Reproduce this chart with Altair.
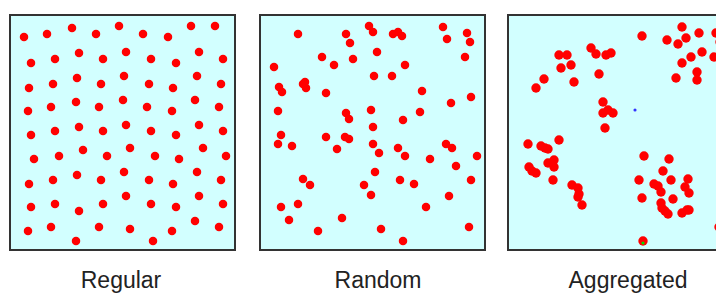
import altair as alt
import pandas as pd

# ---------------- data (panel-local coordinates, origin = panel top-left, y downward) -------------
panel_names = ["Regular", "Random", "Aggregated"]

regular_x = [14, 37, 62, 86, 109, 133, 158, 181, 205,
             21, 45, 69, 93, 116, 141, 166, 189, 213,
             19, 43, 67, 91, 114, 139, 163, 187, 211,
             18, 41, 66, 89, 113, 137, 162, 185, 209,
             21, 45, 69, 93, 116, 141, 166, 189, 213,
             24, 49, 73, 97, 120, 145, 169, 193, 216,
             19, 43, 67, 91, 114, 139, 163, 187, 211,
             21, 45, 69, 93, 116, 141, 166, 189, 213,
             18, 41, 66, 89, 120, 143, 162, 185, 209]
regular_y = [22, 19, 13, 19, 11, 19, 22, 11, 11,
             48, 44, 38, 44, 37, 44, 48, 37, 44,
             73, 69, 63, 69, 61, 69, 73, 61, 69,
             96, 92, 87, 92, 85, 92, 96, 85, 92,
             120, 116, 112, 116, 110, 116, 120, 110, 116,
             144, 141, 135, 141, 133, 141, 144, 133, 141,
             169, 165, 160, 165, 157, 165, 169, 157, 165,
             192, 189, 196, 189, 181, 189, 192, 181, 189,
             216, 212, 226, 212, 214, 226, 216, 206, 212]

random_x = [38, 86, 90, 109, 113, 133, 138, 142, 183, 187, 207, 210, 205, 117, 93, 62, 74, 14,
            145, 114, 132, 45, 43, 46, 19, 22, 66, 162, 211, 191, 18, 86, 89, 111, 160, 143,
            113, 21, 18, 32, 66, 85, 89, 77, 113, 119, 138, 145, 170, 186, 192, 217, 196, 115,
            43, 50, 104, 140, 154, 211, 111, 189, 21, 38, 166, 29, 82, 58, 121, 209, 143]
random_y = [19, 19, 28, 11, 17, 19, 17, 21, 12, 24, 18, 27, 42, 37, 44, 42, 50, 52,
            50, 61, 61, 67, 69, 73, 72, 77, 78, 76, 82, 88, 96, 98, 104, 95, 97, 105,
            112, 120, 129, 131, 122, 122, 124, 134, 129, 138, 133, 141, 144, 129, 133, 141, 151, 157,
            164, 170, 170, 165, 169, 165, 180, 181, 192, 189, 192, 205, 203, 216, 214, 212, 226]

aggregated_x = [134, 174, 159, 170, 178, 191, 208, 212, 194, 206, 183, 174, 189, 189, 168,
                51, 59, 63, 53, 83, 88, 98, 103, 36, 28, 66, 91, 95, 95, 100, 105, 97,
                20, 33, 37, 40, 51, 21, 24, 28, 40, 46, 46, 45, 64, 70, 71, 70, 74,
                136, 161, 155, 131, 163, 180, 146, 150, 153, 177, 181, 134, 165, 153, 154,
                157, 160, 174, 179, 181, 211, 135]
aggregated_y = [21, 12, 25, 29, 23, 18, 18, 27, 37, 42, 42, 48, 57, 65, 63,
                40, 40, 50, 53, 33, 39, 40, 38, 64, 73, 67, 59, 87, 98, 95, 98, 113,
                129, 131, 133, 134, 125, 152, 156, 158, 148, 145, 152, 165, 170, 173, 179, 182, 190,
                141, 144, 156, 165, 165, 164, 169, 171, 177, 172, 178, 183, 184, 188, 193,
                196, 199, 198, 195, 195, 212, 226]

# small marker dots (panel index, x, y, colour)
marker_panel = [2, 2]
marker_x = [135, 127]
marker_y = [228, 95]
marker_color = ["#00DD00", "#3333FF"]

# ---------------- layout (page pixels) ----------------
PANEL_LEFT = [10, 260, 508]
PANEL_TOP = 15
PANEL_W = 225
PANEL_H = 235
LABEL_X = [121, 378, 628]
LABEL_Y = 288
DOT_SIZE = [72, 72, 88]

rows = []
for p, (xs_, ys_) in enumerate([(regular_x, regular_y), (random_x, random_y),
                                (aggregated_x, aggregated_y)]):
    for xv, yv in zip(xs_, ys_):
        rows.append({"panel": panel_names[p], "x": PANEL_LEFT[p] + xv,
                     "y": PANEL_TOP + yv, "size": DOT_SIZE[p]})
points = pd.DataFrame(rows)

frames = pd.DataFrame({
    "panel": panel_names,
    "x": PANEL_LEFT,
    "x2": [l + PANEL_W for l in PANEL_LEFT],
    "y": [PANEL_TOP] * 3,
    "y2": [PANEL_TOP + PANEL_H] * 3,
})

labels = pd.DataFrame({"label": panel_names, "x": LABEL_X, "y": [LABEL_Y] * 3})

markers = pd.DataFrame({
    "x": [PANEL_LEFT[p] + xv for p, xv in zip(marker_panel, marker_x)],
    "y": [PANEL_TOP + yv for yv in marker_y],
    "color": marker_color,
})

xs = alt.Scale(domain=[8, 716], nice=False, zero=False)
ys = alt.Scale(domain=[8, 293], nice=False, zero=False, reverse=True)

bg = alt.Chart(frames).mark_rect(fill="#D2FFFF", stroke="#333333", strokeWidth=2, clip=True).encode(
    x=alt.X("x:Q", scale=xs, axis=None),
    x2="x2:Q",
    y=alt.Y("y:Q", scale=ys, axis=None),
    y2="y2:Q",
)

dots = alt.Chart(points).mark_circle(color="#FF0000", opacity=1, clip=True).encode(
    x=alt.X("x:Q", scale=xs, axis=None),
    y=alt.Y("y:Q", scale=ys, axis=None),
    size=alt.Size("size:Q", scale=None, legend=None),
)

mk = alt.Chart(markers).mark_circle(opacity=1, size=10, clip=True).encode(
    x=alt.X("x:Q", scale=xs, axis=None),
    y=alt.Y("y:Q", scale=ys, axis=None),
    color=alt.Color("color:N", scale=None, legend=None),
)

txt = alt.Chart(labels).mark_text(font="Liberation Sans", fontSize=23, color="#222222",
                                  align="center", baseline="alphabetic").encode(
    x=alt.X("x:Q", scale=xs, axis=None),
    y=alt.Y("y:Q", scale=ys, axis=None),
    text="label:N",
)

chart = alt.layer(bg, dots, mk, txt).properties(
    width=708, height=285, padding=0, autosize=alt.AutoSizeParams(type="none")
).configure_view(stroke=None)

chart.save("out.html", embed_options={"renderer": "svg", "actions": False})
